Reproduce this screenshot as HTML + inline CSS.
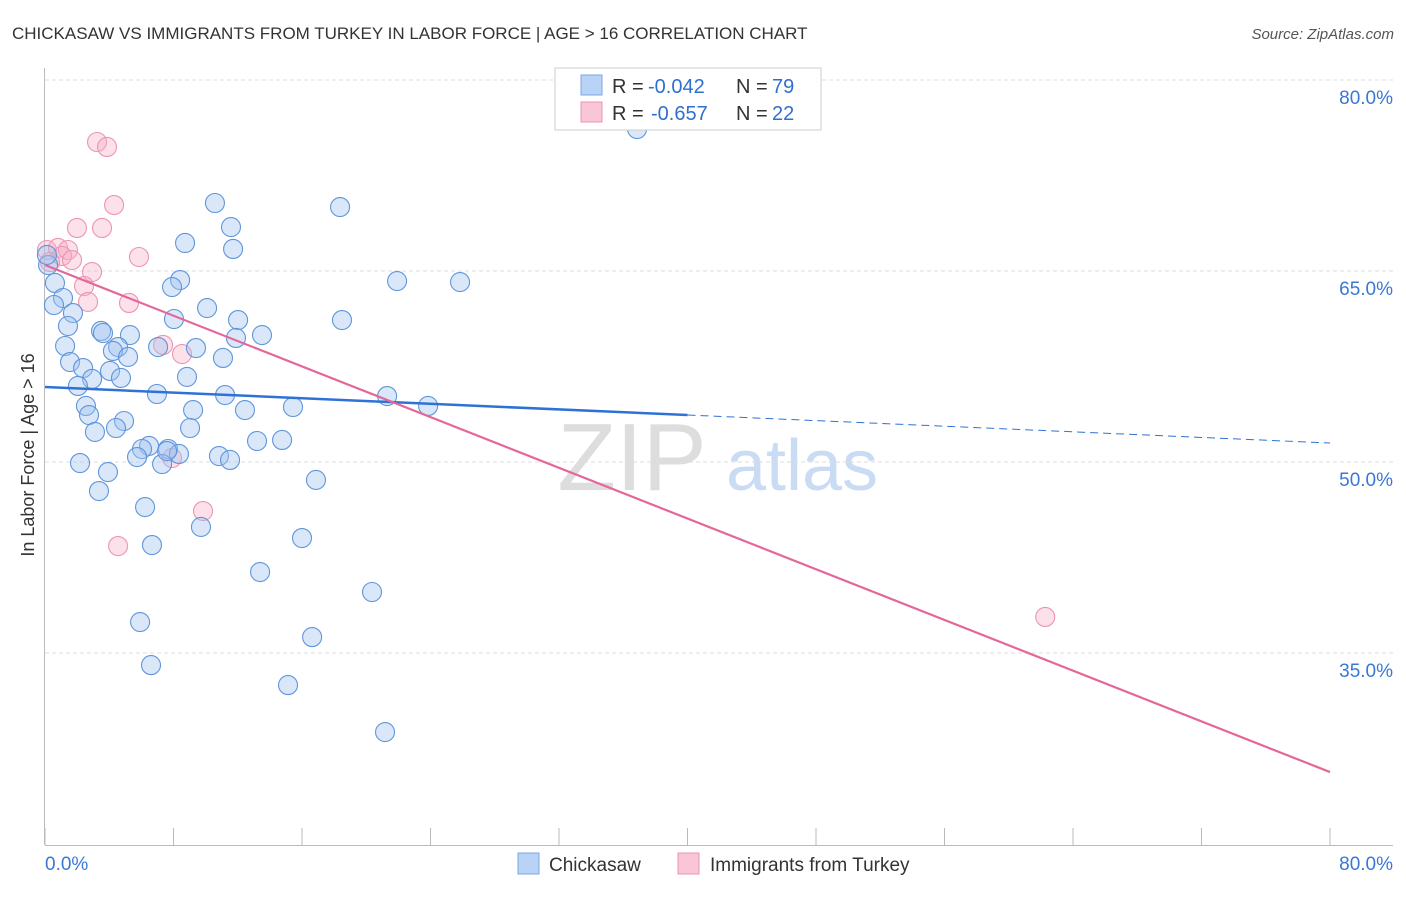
<!DOCTYPE html>
<html><head><meta charset="utf-8"><style>
body{margin:0;background:#fff;font-family:"Liberation Sans",sans-serif}
svg text{font-family:"Liberation Sans",sans-serif}
</style></head><body>
<svg id="chart" width="1406" height="892" xmlns="http://www.w3.org/2000/svg">
<text x="12" y="39" font-size="17" fill="#333">CHICKASAW VS IMMIGRANTS FROM TURKEY IN LABOR FORCE | AGE &gt; 16 CORRELATION CHART</text>
<text x="1394" y="39" font-size="15" fill="#555" font-style="italic" text-anchor="end">Source: ZipAtlas.com</text>
<g>
<text x="632" y="490" font-size="96" fill="#ddd" font-family="Liberation Serif" text-anchor="middle">ZIP</text>
<text x="802" y="490" font-size="72" fill="#c9dcf3" text-anchor="middle">atlas</text>
</g>
<g id="grid"></g>
<g id="axes"></g>
<g id="marks"></g>
<text transform="translate(34,455) rotate(-90)" font-size="18" fill="#333" text-anchor="middle">In Labor Force | Age &gt; 16</text>
<g>
<rect x="555" y="68" width="266" height="62" fill="#fff" stroke="#ccc"/>
<rect x="581" y="75" width="21" height="20" fill="#b8d3f5" stroke="#7aa7e3"/>
<text x="612" y="93" font-size="20" fill="#333">R =</text>
<text x="648" y="93" font-size="20" fill="#2f6fd0">-0.042</text>
<text x="736" y="93" font-size="20" fill="#333">N =</text>
<text x="772" y="93" font-size="20" fill="#2f6fd0">79</text>
<rect x="581" y="102" width="21" height="20" fill="#f9c6d5" stroke="#eb93b0"/>
<text x="612" y="120" font-size="20" fill="#333">R =</text>
<text x="651" y="120" font-size="20" fill="#2f6fd0">-0.657</text>
<text x="736" y="120" font-size="20" fill="#333">N =</text>
<text x="772" y="120" font-size="20" fill="#2f6fd0">22</text>
</g>
<g>
<rect x="518" y="853" width="21" height="21" fill="#b8d3f5" stroke="#7aa7e3"/>
<text x="549" y="871" font-size="19" fill="#333">Chickasaw</text>
<rect x="678" y="853" width="21" height="21" fill="#f9c6d5" stroke="#eb93b0"/>
<text x="710" y="871" font-size="19" fill="#333">Immigrants from Turkey</text>
</g>
</svg>
<script>
const xTicks=[0,8,16,24,32,40,48,56,64,72,80];
const yTicks=[80,65,50,35];
const yTickLabels=["80.0%","65.0%","50.0%","35.0%"];
const xEndLabels=["0.0%","80.0%"];
const blueX=[36.86,10.58,18.37,11.58,8.72,11.71,21.92,25.84,8.41,7.91,0.62,1.12,0.56,10.09,8.03,12.02,18.49,1.74,1.43,3.49,3.61,5.29,13.51,11.89,1.25,4.55,7.04,9.40,4.23,5.17,11.08,1.56,2.37,4.05,2.93,4.73,8.84,2.05,6.97,11.21,21.30,2.55,9.22,12.45,15.44,23.85,2.74,4.92,4.42,9.03,3.11,6.48,13.20,14.76,6.04,7.66,8.34,5.73,10.83,2.18,7.29,3.92,16.87,3.36,6.23,9.71,16.0,6.66,13.39,20.36,5.92,16.63,6.60,15.13,21.17,0.19,0.12,7.60,11.52];
const blueY=[76.15,70.34,70.02,68.45,67.2,66.73,64.21,64.13,64.29,63.74,64.06,62.88,62.33,62.09,61.23,61.15,61.15,61.7,60.68,60.29,60.13,59.97,59.97,59.74,59.11,59.03,59.03,58.95,58.72,58.25,58.17,57.85,57.38,57.15,56.52,56.6,56.68,55.97,55.34,55.26,55.18,54.4,54.08,54.08,54.32,54.4,53.69,53.22,52.67,52.67,52.36,51.26,51.65,51.73,51.02,51.02,50.63,50.39,50.47,49.92,49.84,49.21,48.59,47.72,46.46,44.9,44.03,43.48,41.36,39.79,37.43,36.25,34.05,32.48,28.79,65.47,66.26,50.86,50.16];
const pinkX=[3.24,3.86,4.30,1.99,3.55,0.12,0.81,1.43,1.06,1.68,5.85,2.93,2.43,2.68,5.23,7.35,8.53,7.91,9.84,4.55,62.27,0.31];
const pinkY=[75.13,74.74,70.18,68.38,68.38,66.65,66.81,66.65,66.18,65.86,66.1,64.92,63.82,62.57,62.49,59.19,58.48,50.31,46.15,43.4,37.83,65.71];
const blueTrend=[55.89,51.49];
const pinkTrend=[65.47,25.65];
const NS="http://www.w3.org/2000/svg";
const sx=v=>45+v*(1285/80);
const sy=v=>80+(80-v)*(191/15);
function mk(tag,attrs,parent){const e=document.createElementNS(NS,tag);for(const k in attrs)e.setAttribute(k,attrs[k]);parent.appendChild(e);return e;}
const grid=document.getElementById('grid'),axes=document.getElementById('axes'),marks=document.getElementById('marks');
yTicks.forEach((t,i)=>{
 const l=mk('line',{x1:45,x2:1393,y1:sy(t),y2:sy(t),stroke:'#ddd','stroke-dasharray':'4,3'},grid);
 
 
 const tx=mk('text',{x:1393,y:sy(t)+24,'font-size':19,fill:'#3a78d4','text-anchor':'end'},axes);
 tx.textContent=yTickLabels[i];
 
 
});
const ya=mk('line',{x1:44.5,x2:44.5,y1:68,y2:845,stroke:'#bbb'},axes);


const xa=mk('line',{x1:45,x2:1393,y1:845.5,y2:845.5,stroke:'#bbb'},axes);


xTicks.forEach(t=>{
 const l=mk('line',{x1:sx(t),x2:sx(t),y1:828,y2:845,stroke:'#bbb'},axes);
 
 
});
const xl0=mk('text',{x:45,y:870,'font-size':19,fill:'#3a78d4'},axes);
xl0.textContent=xEndLabels[0];


const xl1=mk('text',{x:1393,y:870,'font-size':19,fill:'#3a78d4','text-anchor':'end'},axes);
xl1.textContent=xEndLabels[1];


pinkX.forEach((x,i)=>{
 const c=mk('circle',{cx:sx(x),cy:sy(pinkY[i]),r:9.5,fill:'rgba(246,170,196,0.35)',stroke:'#eb96b2','stroke-width':1.1},marks);
 
 
});
blueX.forEach((x,i)=>{
 const c=mk('circle',{cx:sx(x),cy:sy(blueY[i]),r:9.5,fill:'rgba(160,196,240,0.4)',stroke:'#5f95dc','stroke-width':1.1},marks);
 
 
});
const bm=blueTrend[0]+(blueTrend[1]-blueTrend[0])*0.5;
const b1=mk('line',{x1:sx(0),y1:sy(blueTrend[0]),x2:sx(40),y2:sy(bm),stroke:'#2f72d6','stroke-width':2.5},marks);


const b2=mk('line',{x1:sx(40),y1:sy(bm),x2:sx(80),y2:sy(blueTrend[1]),stroke:'#2f72d6','stroke-width':1,'stroke-dasharray':'8,5'},marks);


const p1=mk('line',{x1:sx(0),y1:sy(pinkTrend[0]),x2:sx(80),y2:sy(pinkTrend[1]),stroke:'#e4679a','stroke-width':2.2},marks);


</script>
</body></html>
